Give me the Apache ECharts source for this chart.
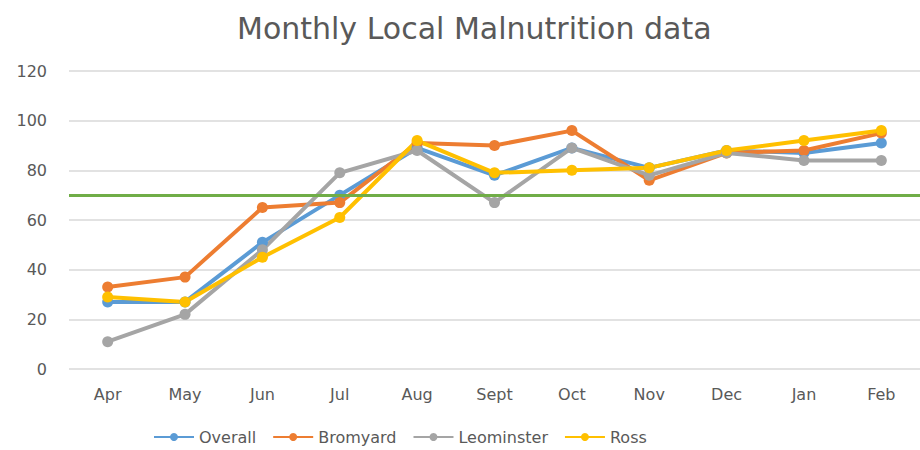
<!DOCTYPE html>
<html>
<head>
<meta charset="utf-8">
<script src="https://cdn.jsdelivr.net/npm/echarts@6/dist/echarts.min.js"></script>
<style>
  html, body { margin: 0; padding: 0; background: #fff; }
  #chart { width: 920px; height: 450px; }
</style>
</head>
<body>
<div id="chart"></div>
<script>
var months = ['Apr', 'May', 'Jun', 'Jul', 'Aug', 'Sept', 'Oct', 'Nov', 'Dec', 'Jan', 'Feb'];
var overall = [27, 27, 51, 70, 89, 78, 89, 81, 88, 87, 91];
var bromyard = [33, 37, 65, 67, 91, 90, 96, 76, 87, 88, 95];
var leominster = [11, 22, 48, 79, 88, 67, 89, 78, 87, 84, 84];
var ross = [29, 27, 45, 61, 92, 79, 80, 81, 88, 92, 96];
var target = 70;

var chart = echarts.init(document.getElementById('chart'), null, { renderer: 'svg' });

function line(name, data, color) {
  return {
    name: name,
    type: 'line',
    data: data,
    symbol: 'circle',
    symbolSize: 11,
    lineStyle: { color: color, width: 4 },
    itemStyle: { color: color }
  };
}

var series = [
  line('Overall', overall, '#5b9bd5'),
  line('Bromyard', bromyard, '#ed7d31'),
  line('Leominster', leominster, '#a5a5a5'),
  line('Ross', ross, '#ffc000')
];
// target line at 70
series[0].markLine = {
  silent: true,
  symbol: 'none',
  label: { show: false },
  lineStyle: { color: '#70ad47', width: 3, type: 'solid' },
  data: [{ yAxis: target }]
};

chart.setOption({
  animation: false,
  textStyle: { fontFamily: 'DejaVu Sans' },
  title: {
    text: 'Monthly Local Malnutrition data',
    left: 232,
    top: 8,
    textStyle: { color: '#595959', fontSize: 30, fontWeight: 'normal', fontFamily: 'DejaVu Sans' }
  },
  legend: {
    bottom: 0,
    left: 148,
    itemWidth: 40,
    itemHeight: 10,
    itemGap: 16,
    textStyle: { color: '#595959', fontSize: 16 },
    data: ['Overall', 'Bromyard', 'Leominster', 'Ross']
  },
  grid: { left: 69, right: -5, top: 71, bottom: 81 },
  xAxis: {
    type: 'category',
    data: months,
    axisLine: { show: false },
    axisTick: { show: false },
    axisLabel: { color: '#595959', fontSize: 16, margin: 17 }
  },
  yAxis: {
    type: 'value',
    min: 0,
    max: 120,
    interval: 20,
    axisLine: { show: false },
    axisTick: { show: false },
    axisLabel: { color: '#595959', fontSize: 16, margin: 22 },
    splitLine: { lineStyle: { color: '#d9d9d9', width: 1.5 } }
  },
  series: series
});
</script>
</body>
</html>
